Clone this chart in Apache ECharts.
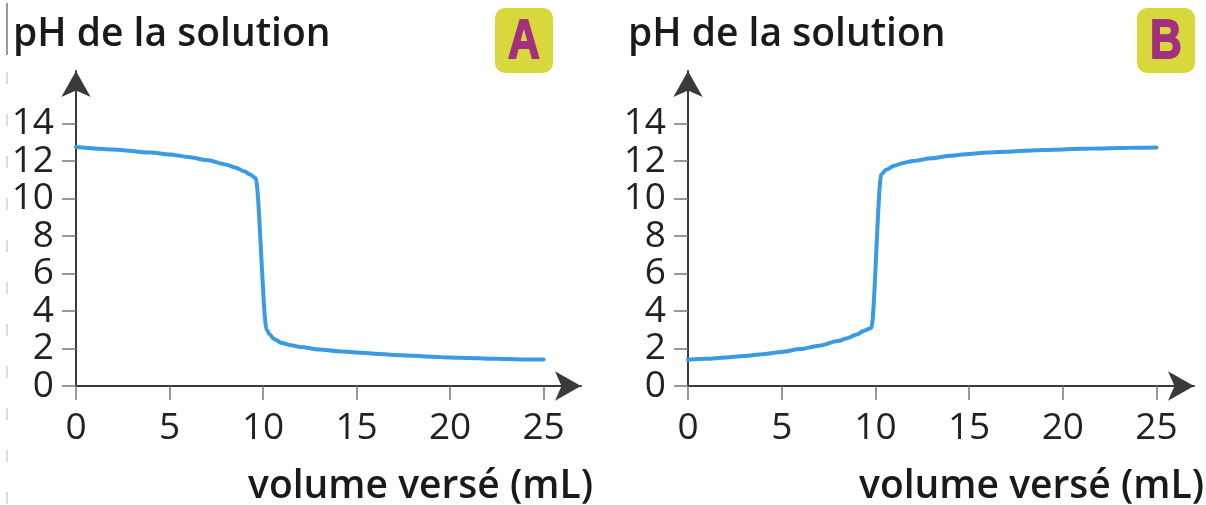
<!DOCTYPE html>
<html>
<head>
<meta charset="utf-8">
<script src="https://cdn.jsdelivr.net/npm/echarts@6/dist/echarts.min.js"></script>
<style>
html,body{margin:0;padding:0;background:#fff;}
#chart{width:1206px;height:505px;}
</style>
</head>
<body>
<div id="chart"></div>
<script>
// ---- data ----
const volA = [0, 2, 4, 5, 6, 7, 8, 8.5, 9, 9.3, 9.6, 10.2, 10.35, 10.6, 11, 11.5, 12, 13, 14, 15, 16, 17, 18, 19, 20, 21, 22, 23, 24, 25];
const phA  = [12.75, 12.62, 12.45, 12.35, 12.22, 12.05, 11.82, 11.66, 11.45, 11.28, 11.1, 3.0, 2.75, 2.5, 2.3, 2.17, 2.08, 1.95, 1.86, 1.79, 1.72, 1.66, 1.61, 1.56, 1.52, 1.49, 1.46, 1.44, 1.42, 1.41];
const volB = [0, 1, 2, 3, 4, 5, 6, 7, 8, 8.5, 9, 9.4, 9.78, 10.32, 10.6, 11, 11.5, 12, 13, 14, 15, 16, 17, 18, 19, 20, 21, 22, 23, 24, 25];
const phB  = [1.4, 1.45, 1.52, 1.6, 1.7, 1.82, 1.97, 2.15, 2.4, 2.55, 2.75, 2.95, 3.1, 11.3, 11.55, 11.75, 11.9, 12.0, 12.15, 12.28, 12.38, 12.45, 12.5, 12.55, 12.59, 12.62, 12.65, 12.67, 12.69, 12.71, 12.72];
const xTicks = [0, 5, 10, 15, 20, 25];
const yTicks = [0, 2, 4, 6, 8, 10, 12, 14];
const yTitle = 'pH de la solution';
const xTitle = 'volume versé (mL)';
const panelNames = ['A', 'B'];

const FONT = '"Open Sans", "Liberation Sans", sans-serif';
const zip = (xs, ys) => xs.map((x, i) => [x, ys[i]]);

const grids = [
  {left: 76, top: 71, width: 505, height: 315},
  {left: 688, top: 71, width: 506, height: 315}
];

function xAxis(i) {
  return {
    type: 'value', gridIndex: i, min: 0, max: 27, interval: 5,
    splitLine: {show: false},
    axisLine: {show: true, symbol: ['none', 'arrow'], symbolSize: [22, 26],
      lineStyle: {color: '#3a3a3a', width: 2}},
    axisTick: {show: true, inside: false, length: 14, customValues: xTicks,
      lineStyle: {color: '#777', width: 1.5}},
    axisLabel: {show: true, customValues: xTicks, margin: 24, hideOverlap: false,
      showMinLabel: true, showMaxLabel: true,
      color: '#222', fontFamily: FONT, fontSize: 37}
  };
}
function yAxis(i) {
  return {
    type: 'value', gridIndex: i, min: 0, max: 16.8, interval: 2,
    splitLine: {show: false},
    axisLine: {show: true, symbol: ['none', 'arrow'], symbolSize: [22, 26],
      lineStyle: {color: '#3a3a3a', width: 2}},
    axisTick: {show: true, inside: false, length: 14, customValues: yTicks,
      lineStyle: {color: '#777', width: 1.5}},
    axisLabel: {show: true, customValues: yTicks, margin: 22, hideOverlap: false,
      showMinLabel: true, showMaxLabel: true,
      color: '#222', fontFamily: FONT, fontSize: 37, padding: [0, 0, 10, 0]}
  };
}
function lineSeries(i, xs, ys) {
  return {
    type: 'line', xAxisIndex: i, yAxisIndex: i,
    data: zip(xs, ys), showSymbol: false, symbol: 'none',
    smooth: 0.3, smoothMonotone: 'x',
    lineStyle: {color: '#3a9be2', width: 4, join: 'round', cap: 'round'},
    silent: true
  };
}
function badge(left, letter) {
  return {
    type: 'group', left: left, top: 8,
    children: [
      {type: 'rect', shape: {x: 0, y: 0, width: 58, height: 65, r: 10},
        style: {fill: '#d8d83c'}},
      {type: 'text', x: 29, y: 35, scaleY: 1.25,
        style: {text: letter, fill: '#a3307f', font: 'bold 44px "Liberation Sans Narrow", "Liberation Sans", sans-serif',
          align: 'center', verticalAlign: 'middle', stroke: '#a3307f', lineWidth: 1.5}}
    ]
  };
}
function label(x, y, text, align) {
  return {type: 'text', x: x, y: y,
    style: {text: text, fill: '#1a1a1a', font: '600 39px ' + FONT, align: align, verticalAlign: 'top'}};
}

const option = {
  backgroundColor: '#fff',
  animation: false,
  grid: grids,
  xAxis: [xAxis(0), xAxis(1)],
  yAxis: [yAxis(0), yAxis(1)],
  series: [lineSeries(0, volA, phA), lineSeries(1, volB, phB)],
  graphic: [
    {type: 'line', shape: {x1: 7, y1: 3, x2: 7, y2: 55}, style: {stroke: '#999', lineWidth: 2}},
    {type: 'line', shape: {x1: 7, y1: 72, x2: 7, y2: 505}, style: {stroke: '#ddd', lineWidth: 2, lineDash: [12, 30]}},
    label(13, 15, yTitle, 'left'),
    label(628, 15, yTitle, 'left'),
    label(593, 467, xTitle, 'right'),
    label(1204, 467, xTitle, 'right'),
    badge(495, panelNames[0]),
    badge(1137, panelNames[1])
  ]
};
const chart = echarts.init(document.getElementById('chart'), null, {renderer: 'canvas'});
chart.setOption(option);
</script>
</body>
</html>
